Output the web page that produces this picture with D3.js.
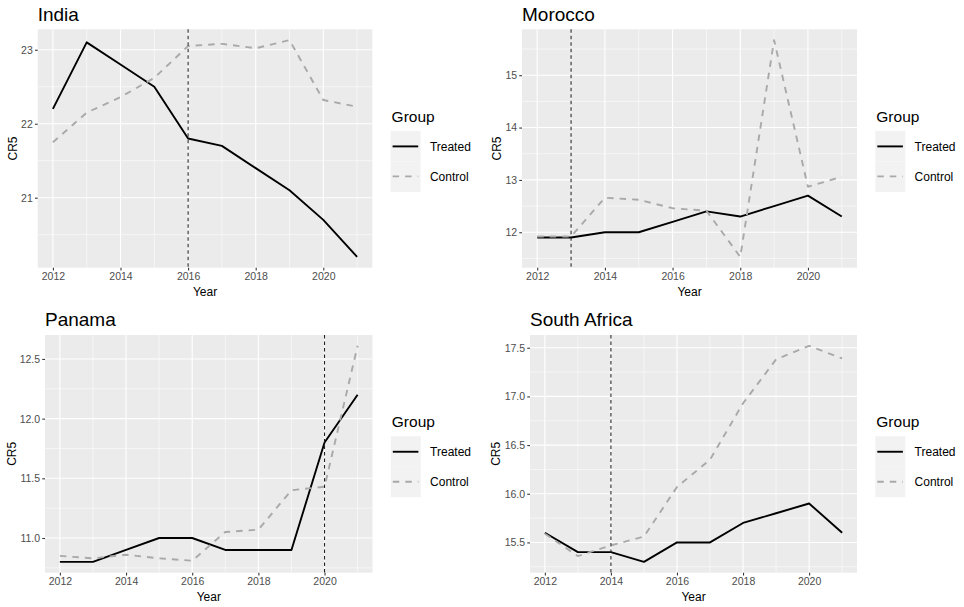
<!DOCTYPE html>
<html>
<head>
<meta charset="utf-8">
<script src="https://cdn.jsdelivr.net/npm/d3@7"></script>
<style>
  html, body { margin: 0; padding: 0; background: #fff; }
  svg { display: block; font-family: "Liberation Sans", Arial, sans-serif; }
</style>
</head>
<body>
<svg id="chart" width="964" height="607"></svg>
<script>
// ---------------- DATA ----------------
const years = [2012, 2013, 2014, 2015, 2016, 2017, 2018, 2019, 2020, 2021];
const xTicks = [2012, 2014, 2016, 2018, 2020];
const countries = ["India", "Morocco", "Panama", "South Africa"];
const treatmentYears = [2016, 2013, 2020, 2014];
const groups = ["Treated", "Control"];

const indiaTreated   = [22.2, 23.1, 22.8, 22.5, 21.8, 21.7, 21.4, 21.1, 20.7, 20.2];
const indiaControl   = [21.75, 22.15, 22.36, 22.62, 23.05, 23.08, 23.02, 23.13, 22.32, 22.23];
const moroccoTreated = [11.9, 11.9, 12.0, 12.0, 12.2, 12.4, 12.3, 12.5, 12.7, 12.3];
const moroccoControl = [11.92, 11.92, 12.66, 12.62, 12.46, 12.41, 11.53, 15.67, 12.87, 13.06];
const panamaTreated  = [10.8, 10.8, 10.9, 11.0, 11.0, 10.9, 10.9, 10.9, 11.8, 12.2];
const panamaControl  = [10.85, 10.83, 10.86, 10.83, 10.81, 11.05, 11.07, 11.40, 11.43, 12.61];
const saTreated      = [15.6, 15.4, 15.4, 15.3, 15.5, 15.5, 15.7, 15.8, 15.9, 15.6];
const saControl      = [15.59, 15.36, 15.47, 15.56, 16.07, 16.35, 16.93, 17.38, 17.52, 17.39];

const indiaTicks   = [21, 22, 23];
const moroccoTicks = [12, 13, 14, 15];
const panamaTicks  = [11.0, 11.5, 12.0, 12.5];
const saTicks      = [15.5, 16.0, 16.5, 17.0, 17.5];

const treatedSeries = [indiaTreated, moroccoTreated, panamaTreated, saTreated];
const controlSeries = [indiaControl, moroccoControl, panamaControl, saControl];
const tickSets = [indiaTicks, moroccoTicks, panamaTicks, saTicks];
const tickFormats = [d3.format("d"), d3.format("d"), d3.format(".1f"), d3.format(".1f")];

// ---------------- LAYOUT ----------------
const layout = [
  { left: 37.7, right: 372.3, top: 29.3, bottom: 267.7, ylabX: 16.5 },
  { left: 522.0, right: 857.0, top: 29.3, bottom: 267.7, ylabX: 501.2 },
  { left: 45.0, right: 372.5, top: 335.0, bottom: 572.7, ylabX: 16.2 },
  { left: 530.0, right: 857.0, top: 335.0, bottom: 572.7, ylabX: 500.4 }
];

const svg = d3.select("#chart");
svg.append("rect").attr("width", 964).attr("height", 607).attr("fill", "#ffffff");

const styles = {
  Treated: { stroke: "#000000", dash: null, width: 1.9 },
  Control: { stroke: "#A9A9A9", dash: "6.5,6", width: 1.9 }
};

countries.forEach((country, i) => {
  const L = layout[i];
  const g = svg.append("g");
  const treated = treatedSeries[i];
  const control = controlSeries[i];

  const x = d3.scaleLinear()
    .domain([years[0] - 0.45, years[years.length - 1] + 0.45])
    .range([L.left, L.right]);

  const ext = d3.extent(treated.concat(control));
  const pad = (ext[1] - ext[0]) * 0.05;
  const y = d3.scaleLinear().domain([ext[0] - pad, ext[1] + pad]).range([L.bottom, L.top]);

  // panel background
  g.append("rect")
    .attr("x", L.left).attr("y", L.top)
    .attr("width", L.right - L.left).attr("height", L.bottom - L.top)
    .attr("fill", "#EBEBEB");

  // minor grid
  const ticks = tickSets[i];
  const step = ticks[1] - ticks[0];
  const yMinor = [];
  for (let k = -1; k < ticks.length; k++) {
    const v = ticks[0] + step * (k + 0.5);
    if (v > y.domain()[0] && v < y.domain()[1]) yMinor.push(v);
  }
  const xMinor = [];
  for (let k = -1; k < xTicks.length; k++) {
    const v = xTicks[0] + 2 * (k + 0.5);
    if (v > x.domain()[0] && v < x.domain()[1]) xMinor.push(v);
  }
  g.selectAll(".ymin").data(yMinor).enter().append("line")
    .attr("x1", L.left).attr("x2", L.right)
    .attr("y1", d => y(d)).attr("y2", d => y(d))
    .attr("stroke", "#fff").attr("stroke-width", 0.55);
  g.selectAll(".xmin").data(xMinor).enter().append("line")
    .attr("y1", L.top).attr("y2", L.bottom)
    .attr("x1", d => x(d)).attr("x2", d => x(d))
    .attr("stroke", "#fff").attr("stroke-width", 0.55);
  // major grid
  g.selectAll(".ymaj").data(ticks).enter().append("line")
    .attr("x1", L.left).attr("x2", L.right)
    .attr("y1", d => y(d)).attr("y2", d => y(d))
    .attr("stroke", "#fff").attr("stroke-width", 1.1);
  g.selectAll(".xmaj").data(xTicks).enter().append("line")
    .attr("y1", L.top).attr("y2", L.bottom)
    .attr("x1", d => x(d)).attr("x2", d => x(d))
    .attr("stroke", "#fff").attr("stroke-width", 1.1);

  // axes
  const yAxis = d3.axisLeft(y).tickValues(ticks).tickFormat(tickFormats[i])
    .tickSize(2.74).tickPadding(2.2);
  const ya = g.append("g").attr("transform", `translate(${L.left},0)`).call(yAxis);
  const xAxis = d3.axisBottom(x).tickValues(xTicks).tickFormat(d3.format("d"))
    .tickSize(2.74).tickPadding(2.2);
  const xa = g.append("g").attr("transform", `translate(0,${L.bottom})`).call(xAxis);
  [ya, xa].forEach(a => {
    a.select(".domain").remove();
    a.selectAll(".tick line").attr("stroke", "#333333").attr("stroke-width", 1.07);
    a.selectAll(".tick text").attr("fill", "#4D4D4D")
      .style("font-size", "10.5px").style("font-family", '"Liberation Sans", Arial, sans-serif');
  });

  // lines (Treated drawn first, Control on top, as in ggplot group order)
  const line = d3.line().x((d, j) => x(years[j])).y(d => y(d));
  [["Treated", treated], ["Control", control]].forEach(([grp, vals]) => {
    const s = styles[grp];
    g.append("path").datum(vals).attr("d", line)
      .attr("fill", "none").attr("stroke", s.stroke).attr("stroke-width", s.width)
      .attr("stroke-dasharray", s.dash).attr("stroke-linejoin", "round");
  });

  // treatment vertical line
  g.append("line")
    .attr("x1", x(treatmentYears[i])).attr("x2", x(treatmentYears[i]))
    .attr("y1", L.top).attr("y2", L.bottom)
    .attr("stroke", "#222").attr("stroke-width", 1.05).attr("stroke-dasharray", "3.5,3");

  // titles
  g.append("text").attr("x", L.left).attr("y", L.top - 8.8)
    .style("font-size", "19px").attr("fill", "#000").text(country);
  g.append("text").attr("x", (L.left + L.right) / 2).attr("y", L.bottom + 28.3)
    .attr("text-anchor", "middle").style("font-size", "12px").attr("fill", "#000").text("Year");
  g.append("text")
    .attr("transform", `translate(${L.ylabX},${(L.top + L.bottom) / 2}) rotate(-90)`)
    .attr("text-anchor", "middle").style("font-size", "12px").attr("fill", "#000").text("CR5");

  // legend
  const cy = (L.top + L.bottom) / 2;
  const lx = L.right + 18.3;
  const lg = g.append("g");
  lg.append("text").attr("x", lx + 1).attr("y", cy - 27)
    .style("font-size", "15.5px").attr("fill", "#000").text("Group");
  const keyTop = cy - 17.6;
  const keyH = 30.5, keyW = 30;
  groups.forEach((grp, k) => {
    const s = styles[grp];
    const ky = keyTop + k * keyH;
    lg.append("rect").attr("x", lx).attr("y", ky).attr("width", keyW).attr("height", keyH)
      .attr("fill", "#F2F2F2");
    const ly = ky + 15.5 - k * 0.5;
    lg.append("line").attr("x1", lx + 2).attr("x2", lx + keyW - 2.4)
      .attr("y1", ly).attr("y2", ly)
      .attr("stroke", s.stroke).attr("stroke-width", s.width).attr("stroke-dasharray", s.dash);
    lg.append("text").attr("x", lx + keyW + 9.3).attr("y", ly).attr("dy", "0.35em")
      .style("font-size", "12px").attr("fill", "#000").text(grp);
  });
});
</script>
</body>
</html>
